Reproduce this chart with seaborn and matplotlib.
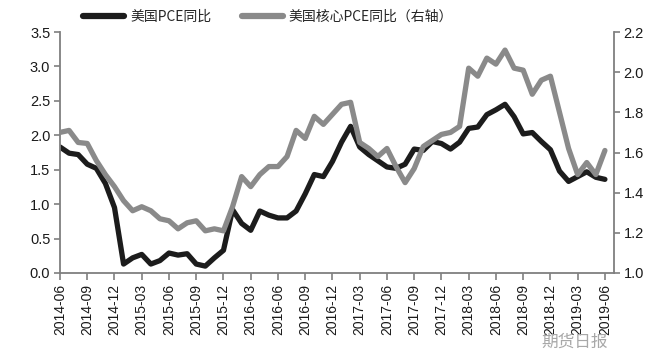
import matplotlib
matplotlib.use("Agg")
import matplotlib.pyplot as plt
import seaborn as sns
import pandas as pd
import numpy as np

months = pd.date_range("2014-06-01", "2019-06-01", freq="MS").strftime("%Y-%m").tolist()

pce = [1.83, 1.74, 1.72, 1.58, 1.52, 1.30, 0.95, 0.13, 0.22, 0.27,
       0.13, 0.18, 0.29, 0.26, 0.28, 0.13, 0.10, 0.22, 0.33, 0.92,
       0.72, 0.62, 0.90, 0.84, 0.80, 0.80, 0.90, 1.15, 1.43, 1.40,
       1.62, 1.90, 2.13, 1.83, 1.72, 1.63, 1.54, 1.52, 1.58, 1.80,
       1.78, 1.91, 1.88, 1.80, 1.90, 2.10, 2.12, 2.30, 2.37, 2.45,
       2.27, 2.02, 2.04, 1.91, 1.79, 1.48, 1.33, 1.40, 1.47, 1.39,
       1.36]

core_pce = [1.70, 1.71, 1.65, 1.645, 1.56, 1.49, 1.43, 1.36, 1.31, 1.33,
            1.31, 1.27, 1.26, 1.22, 1.25, 1.26, 1.21, 1.22, 1.21, 1.33,
            1.48, 1.43, 1.49, 1.53, 1.53, 1.58, 1.71, 1.67, 1.78, 1.74,
            1.79, 1.84, 1.85, 1.65, 1.62, 1.58, 1.62, 1.53, 1.45, 1.52,
            1.63, 1.66, 1.69, 1.70, 1.73, 2.02, 1.98, 2.07, 2.04, 2.11,
            2.02, 2.01, 1.89, 1.96, 1.98, 1.80, 1.62, 1.49, 1.55, 1.49,
            1.61]

label_pce = "美国PCE同比"
label_core = "美国核心PCE同比（右轴）"

left_ticks = [0.0, 0.5, 1.0, 1.5, 2.0, 2.5, 3.0, 3.5]
right_ticks = [1.0, 1.2, 1.4, 1.6, 1.8, 2.0, 2.2]

df = pd.DataFrame({"idx": np.arange(len(months)), "month": months,
                   "pce": pce, "core": core_pce})

sns.set_theme(style="white")
plt.rcParams["font.family"] = ["Liberation Sans", "Noto Sans CJK SC", "DejaVu Sans"]

fig = plt.figure(figsize=(6.71, 3.62), dpi=100)
ax = fig.add_axes([60/671, 1-273/362, (614-60)/671, (273-32)/362])
ax2 = ax.twinx()

black = "#1c1c1c"
grey = "#8a8a8a"
spine_c = "#7f7f7f"

sns.lineplot(data=df, x="idx", y="pce", ax=ax, color=black, linewidth=3.8,
             label=label_pce, legend=False, solid_capstyle="round")
sns.lineplot(data=df, x="idx", y="core", ax=ax2, color=grey, linewidth=3.8,
             label=label_core, legend=False, solid_capstyle="round")

ax.set_xlim(0, len(months))
ax.set_ylim(0, 3.5)
ax2.set_ylim(1.0, 2.2)
ax.set_yticks(left_ticks)
ax.set_yticklabels([f"{v:.1f}" for v in left_ticks], fontsize=10.5)
ax2.set_yticks(right_ticks)
ax2.set_yticklabels([f"{v:.1f}" for v in right_ticks], fontsize=10.5)
tick_pos = list(range(0, len(months), 3))
ax.set_xticks(tick_pos)
ax.set_xticklabels([months[i] for i in tick_pos], rotation=90, fontsize=10)
ax.set_xlabel("")
ax.set_ylabel("")
ax2.set_ylabel("")

for a in (ax, ax2):
    a.spines["top"].set_visible(False)
    for s in ("left", "right", "bottom"):
        a.spines[s].set_color(spine_c)
        a.spines[s].set_linewidth(1.3)
    a.grid(False)
ax.spines["right"].set_visible(False)
ax2.spines["left"].set_visible(False)
ax2.spines["bottom"].set_visible(False)

ax.tick_params(axis="y", direction="out", length=4, width=1.2, color=spine_c,
               left=True, pad=3)
ax.tick_params(axis="x", direction="out", length=5, width=1.2, color=spine_c,
               bottom=True, pad=3)
ax2.tick_params(axis="y", direction="out", length=4, width=1.2, color=spine_c,
                right=True, pad=3)
for lbl in ax.get_xticklabels() + ax.get_yticklabels() + ax2.get_yticklabels():
    lbl.set_color("#1a1a1a")

h1, l1 = ax.get_legend_handles_labels()
h2, l2 = ax2.get_legend_handles_labels()
leg = fig.legend(h1 + h2, l1 + l2, loc="center", bbox_to_anchor=(268/671, 1-17/362),
                 ncol=2, frameon=False, handlelength=3.0,
                 columnspacing=2.2, handletextpad=0.4,
                 prop={"family": ["Noto Sans CJK SC", "DejaVu Sans"], "size": 10})
for ln in leg.get_lines():
    ln.set_linewidth(4.5)

fig.text(608/671, 1-342/362, "期货日报", ha="right", va="center", fontsize=12,
         color="#a8a8a8", family=["Noto Sans CJK SC", "DejaVu Sans"])

fig.savefig("out.png", dpi=100)
